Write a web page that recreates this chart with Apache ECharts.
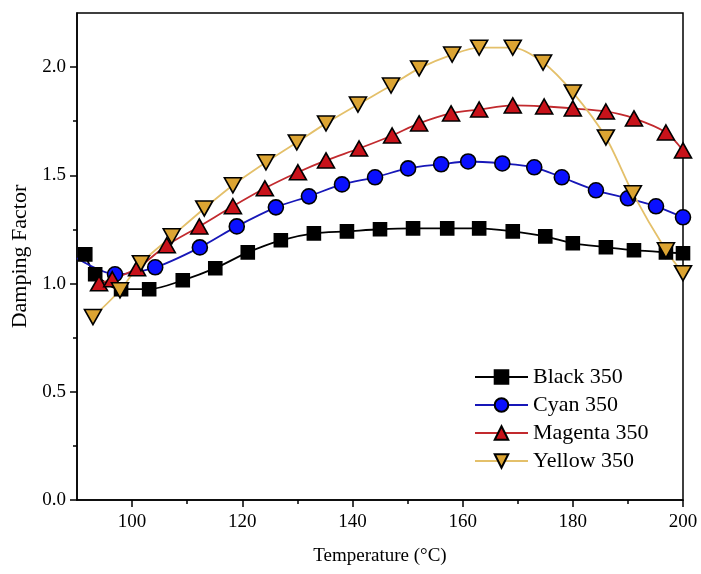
<!DOCTYPE html>
<html><head><meta charset="utf-8">
<script src="https://cdn.jsdelivr.net/npm/echarts@6/dist/echarts.min.js"></script>
<style>html,body{margin:0;padding:0;background:#fff}#c{width:701px;height:574px}</style>
</head><body><div id="c"></div>
<script>
const seriesNames = ['Black 350', 'Cyan 350', 'Magenta 350', 'Yellow 350'];

const blackT = [91.5, 93.3, 98.0, 103.1, 109.2, 115.1, 121.0, 127.0, 133.0, 139.0, 145.0, 151.0, 157.2, 163.0, 169.1, 175.0, 180.0, 186.0, 191.1, 196.9, 200];
const blackV = [1.135, 1.043, 0.974, 0.974, 1.015, 1.071, 1.144, 1.200, 1.232, 1.241, 1.251, 1.255, 1.255, 1.255, 1.241, 1.218, 1.186, 1.168, 1.154, 1.144, 1.140];

const cyanT = [90, 96.9, 104.2, 112.3, 119.0, 126.1, 132.1, 138.1, 144.1, 150.1, 156.1, 161.0, 167.2, 173.0, 178.0, 184.2, 190.0, 195.1, 200];
const cyanV = [1.117, 1.043, 1.075, 1.167, 1.264, 1.352, 1.403, 1.458, 1.491, 1.532, 1.551, 1.564, 1.555, 1.537, 1.491, 1.431, 1.394, 1.357, 1.306];

const magentaT = [94.0, 96.4, 100.9, 106.3, 112.2, 118.3, 124.1, 130.1, 135.2, 141.2, 147.2, 152.1, 157.9, 163.0, 169.1, 174.8, 180.0, 186.0, 191.1, 196.9, 200];
const magentaV = [1.001, 1.020, 1.071, 1.177, 1.264, 1.357, 1.440, 1.514, 1.569, 1.624, 1.684, 1.740, 1.786, 1.804, 1.823, 1.818, 1.809, 1.795, 1.763, 1.698, 1.615];

const yellowT = [92.9, 97.8, 101.6, 107.2, 113.1, 118.3, 124.3, 129.9, 135.2, 141.0, 147.0, 152.1, 158.1, 163.0, 169.1, 174.6, 180.0, 186.0, 190.9, 196.9, 200];
const yellowV = [0.845, 0.969, 1.094, 1.218, 1.347, 1.454, 1.560, 1.652, 1.740, 1.827, 1.915, 1.994, 2.058, 2.090, 2.090, 2.021, 1.883, 1.675, 1.417, 1.154, 1.048];

const xMajorTicks = [100, 120, 140, 160, 180, 200];
const xMinorTicks = [110, 130, 150, 170, 190];
const yMajorTicks = [0.0, 0.5, 1.0, 1.5, 2.0];
const yMinorTicks = [0.25, 0.75, 1.25, 1.75];

const font = 'Liberation Serif';

function pairs(t, v) { return t.map((x, i) => [x, v[i]]); }

const cyanData = pairs(cyanT, cyanV).map((p, i) => i === 0 ? { value: p, symbol: 'none' } : p);

const chart = echarts.init(document.getElementById('c'), null, { renderer: 'canvas' });

const axisLine = { show: true, lineStyle: { color: '#000', width: 1.5 } };

function mk(name, data, color, fill, symbol, size, rotate) {
  return {
    name: name, type: 'line', data: data, smooth: 0.3,
    symbol: symbol, symbolSize: size, symbolRotate: rotate || 0,
    lineStyle: { color: color, width: 1.8 },
    itemStyle: { color: fill, borderColor: '#000', borderWidth: 1.6 },
    emphasis: { disabled: true },
    clip: true
  };
}

chart.setOption({
  animation: false,
  backgroundColor: '#fff',
  grid: { left: 77, right: 18, top: 13, bottom: 74, show: true, borderColor: '#000', borderWidth: 1.5, backgroundColor: 'transparent' },
  legend: {
    data: seriesNames,
    orient: 'vertical', left: 469, top: 361,
    itemWidth: 53, itemHeight: 17, itemGap: 6,
    textStyle: { fontFamily: font, fontSize: 22, color: '#000' }
  },
  xAxis: [
    {
      type: 'value', min: 90, max: 200, position: 'bottom',
      name: 'Temperature (°C)', nameLocation: 'middle', nameGap: 47,
      nameTextStyle: { fontFamily: font, fontSize: 19, color: '#000' },
      axisLine: axisLine,
      axisTick: { show: true, inside: false, length: 7, customValues: xMajorTicks, lineStyle: { color: '#000', width: 1.5 } },
      axisLabel: { show: true, customValues: xMajorTicks, margin: 13, fontFamily: font, fontSize: 19, color: '#000' },
      splitLine: { show: false }
    },
    {
      type: 'value', min: 90, max: 200, position: 'bottom',
      axisLine: { show: false },
      axisTick: { show: true, inside: false, length: 4, customValues: xMinorTicks, lineStyle: { color: '#000', width: 1.5 } },
      axisLabel: { show: false },
      splitLine: { show: false }
    }
  ],
  yAxis: [
    {
      type: 'value', min: 0, max: 2.25, position: 'left',
      name: 'Damping Factor', nameLocation: 'middle', nameGap: 44,
      nameTextStyle: { fontFamily: font, fontSize: 22, color: '#000' },
      axisLine: axisLine,
      axisTick: { show: true, inside: false, length: 7, customValues: yMajorTicks, lineStyle: { color: '#000', width: 1.5 } },
      axisLabel: { show: true, customValues: yMajorTicks, margin: 11, fontFamily: font, fontSize: 19, color: '#000', formatter: v => v.toFixed(1) },
      splitLine: { show: false }
    },
    {
      type: 'value', min: 0, max: 2.25, position: 'left',
      axisLine: { show: false },
      axisTick: { show: true, inside: false, length: 4, customValues: yMinorTicks, lineStyle: { color: '#000', width: 1.5 } },
      axisLabel: { show: false },
      splitLine: { show: false }
    }
  ],
  series: [
    mk(seriesNames[0], pairs(blackT, blackV), '#000000', '#000000', 'rect', 13),
    mk(seriesNames[1], cyanData, '#1717B8', '#0A10FF', 'circle', 15),
    mk(seriesNames[2], pairs(magentaT, magentaV), '#C22A2E', '#C8121A', 'triangle', [17, 15]),
    mk(seriesNames[3], pairs(yellowT, yellowV), '#E4C06A', '#DCA432', 'triangle', [17, 15], 180)
  ]
});
</script>
</body></html>
